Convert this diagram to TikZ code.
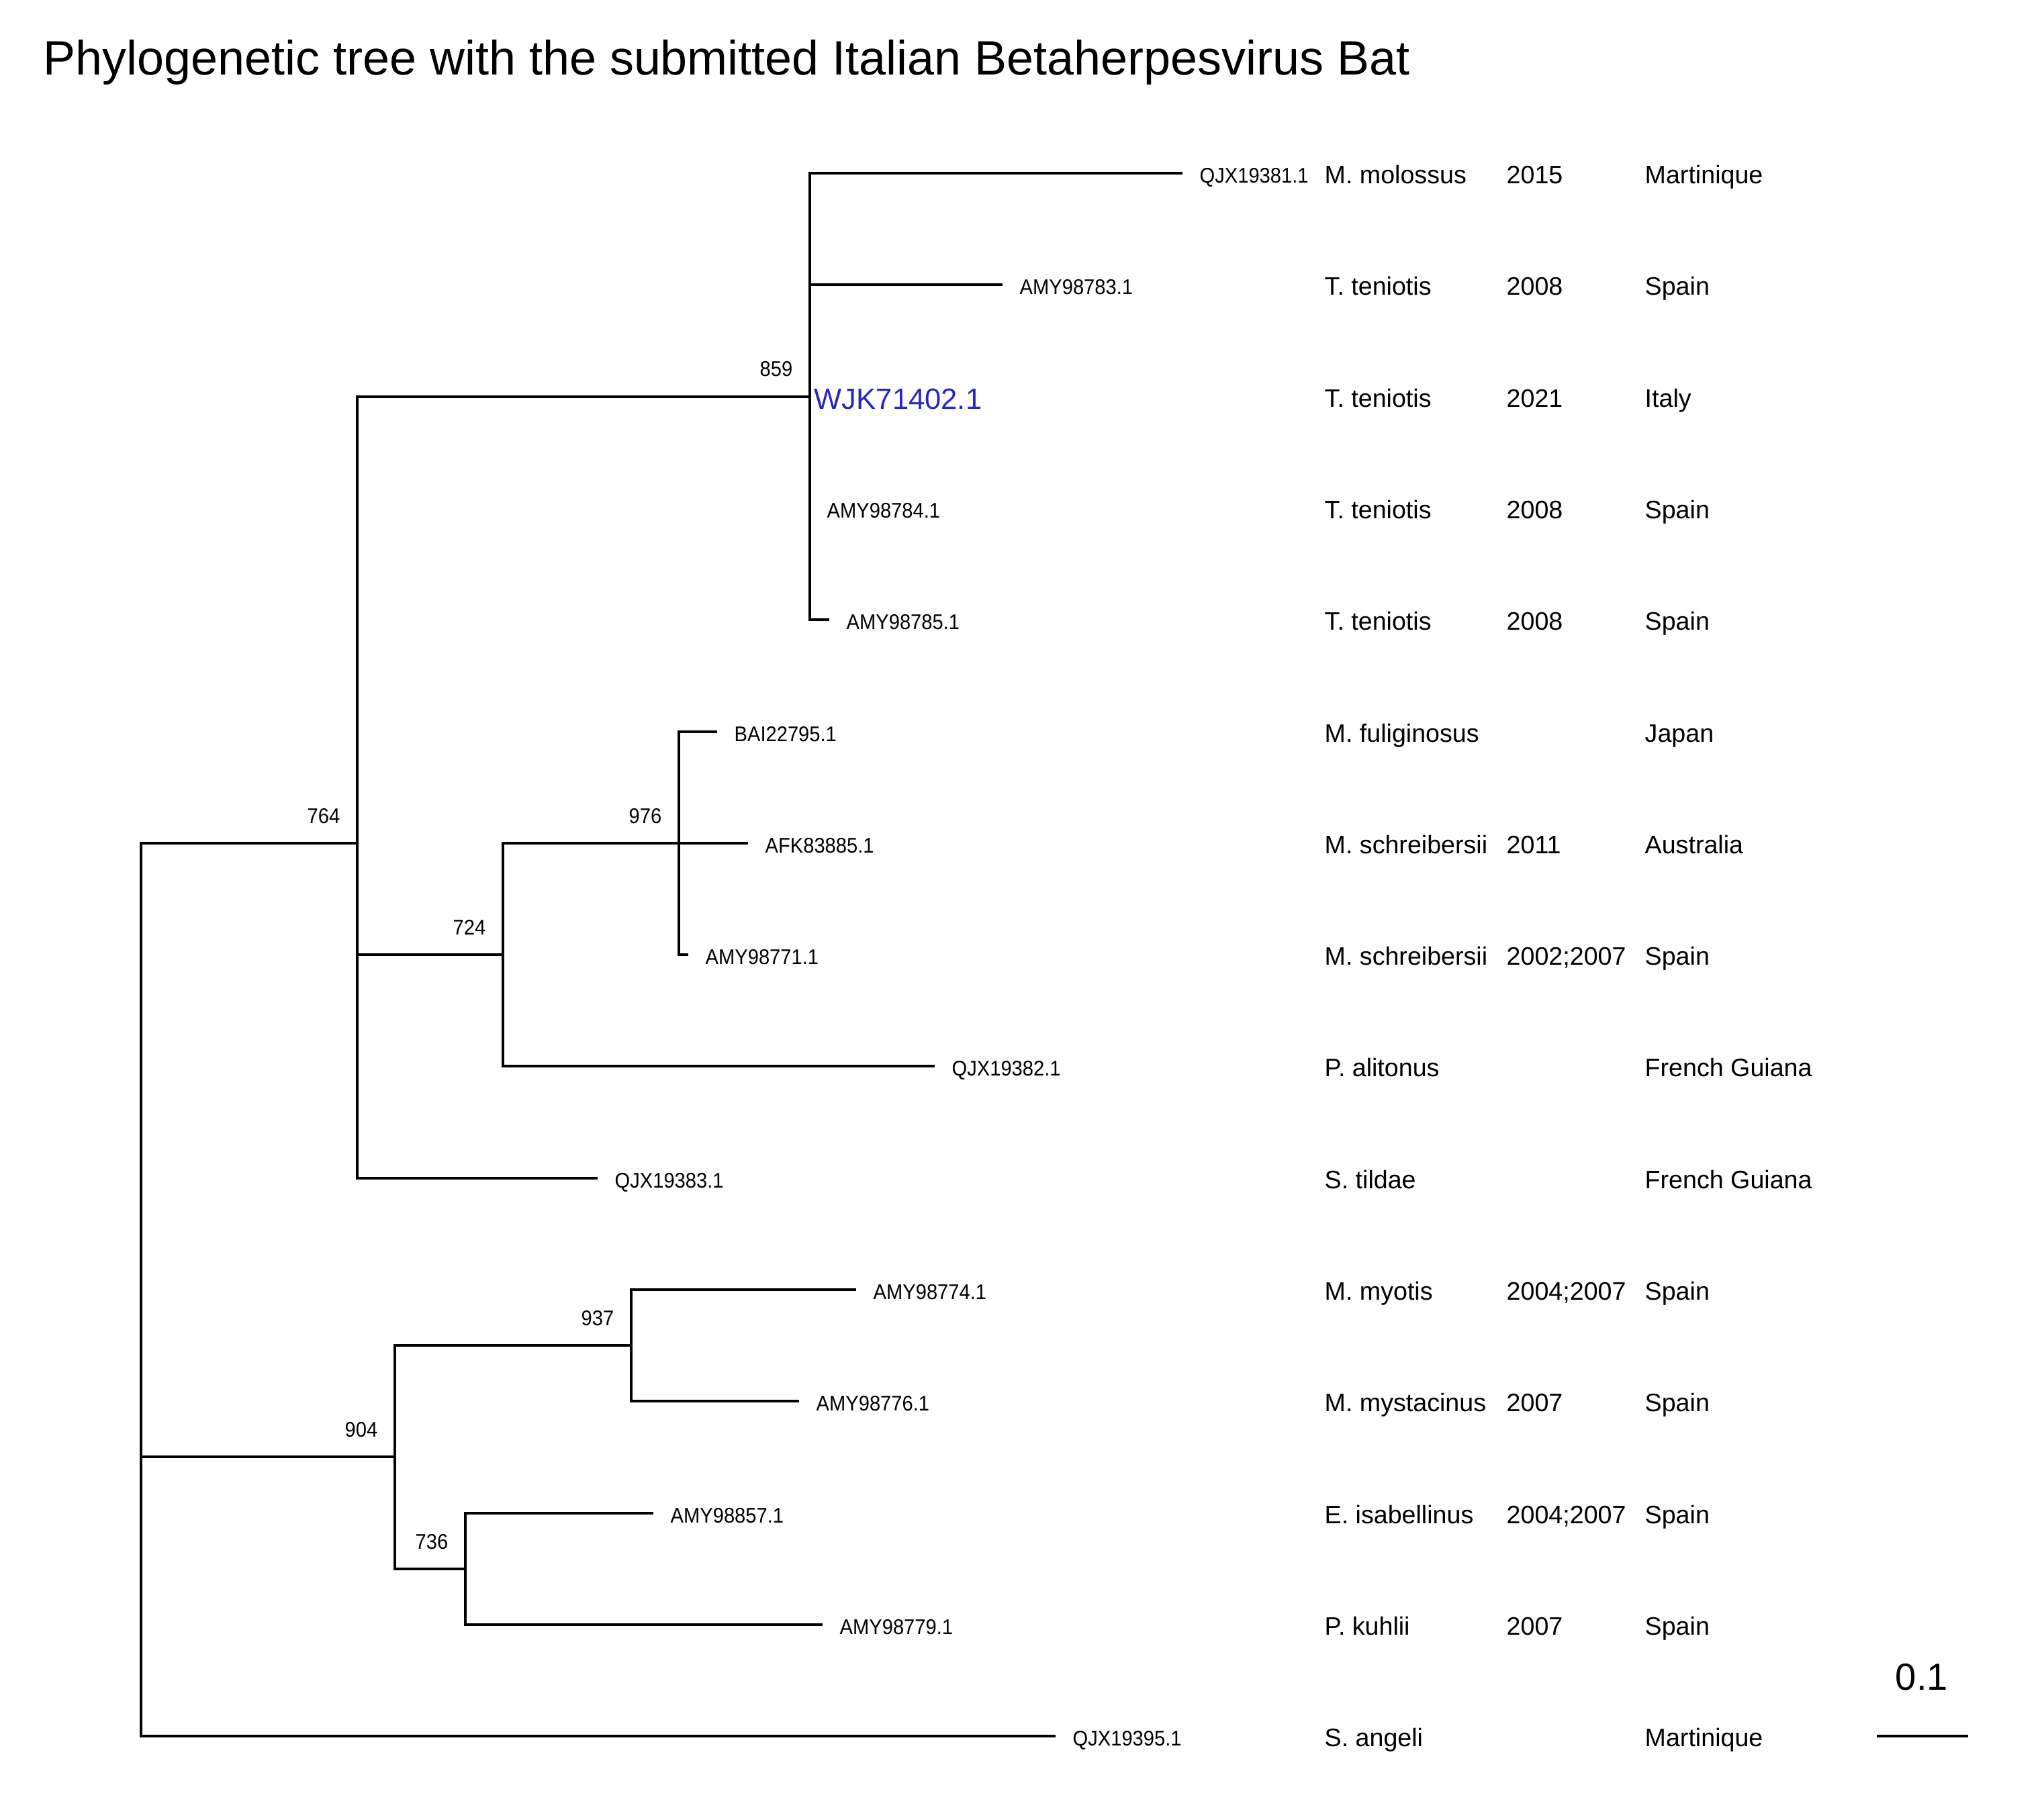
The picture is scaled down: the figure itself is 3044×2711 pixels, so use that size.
\documentclass[tikz,border=0pt]{standalone}
\usepackage{fontspec}
\setmainfont{Liberation Sans}
\newfontfamily\narrowsans[FakeStretch=0.92]{Liberation Sans}
\definecolor{querybl}{RGB}{40,40,190}

\begin{document}
\begin{tikzpicture}[x=0.01cm, y=-0.01cm, every node/.style={inner sep=0pt, font=\fontsize{10.7}{12}\selectfont},
	branch/.style={line width=1pt},
	acclab/.style={anchor=base west, xshift=0.25cm, yshift=-0.14cm, font=\narrowsans\fontsize{9}{10}\selectfont},
	querylab/.style={anchor=base west, xshift=0.06cm, yshift=-0.18cm, text=querybl, font=\fontsize{12.4}{14}\selectfont},
	bootlab/.style={anchor=base east, xshift=-0.25cm, yshift=0.30cm, font=\narrowsans\fontsize{9}{10}\selectfont},
	infolab/.style={anchor=base west}]
	\useasboundingbox (0,0) rectangle (3044,2711);
	\node[anchor=base west, font=\fontsize{20.45}{24}\selectfont] (title) at (64,111) {Phylogenetic tree with the submitted Italian Betaherpesvirus Bat};
	\coordinate (root) at (210,2004);
	\coordinate (n764) at (532,1256);
	\coordinate (n859) at (1206,591);
	\coordinate (n724) at (749,1422);
	\coordinate (n976) at (1011,1256);
	\coordinate (n904) at (588,2170);
	\coordinate (n937) at (940,2004);
	\coordinate (n736) at (693,2337);
	\coordinate (tQJX19381) at (1761,258);
	\coordinate (tAMY98783) at (1493,424);
	\coordinate (tWJK71402) at (1206,591);
	\coordinate (tAMY98784) at (1206,757);
	\coordinate (tAMY98785) at (1235,923);
	\coordinate (tBAI22795) at (1068,1090);
	\coordinate (tAFK83885) at (1114,1256);
	\coordinate (tAMY98771) at (1025,1422);
	\coordinate (tQJX19382) at (1392,1588);
	\coordinate (tQJX19383) at (890,1755);
	\coordinate (tAMY98774) at (1275,1921);
	\coordinate (tAMY98776) at (1190,2087);
	\coordinate (tAMY98857) at (973,2254);
	\coordinate (tAMY98779) at (1225,2420);
	\coordinate (tQJX19395) at (1572,2586);
	\draw[branch] (root) |- (n764);
	\draw[branch] (root) |- (n904);
	\draw[branch] (root) |- (tQJX19395);
	\draw[branch] (n764) |- (n859);
	\draw[branch] (n764) |- (n724);
	\draw[branch] (n764) |- (tQJX19383);
	\draw[branch] (n859) |- (tQJX19381);
	\draw[branch] (n859) |- (tAMY98783);
	\draw[branch] (n859) |- (tAMY98784);
	\draw[branch] (n859) |- (tAMY98785);
	\draw[branch] (n724) |- (n976);
	\draw[branch] (n724) |- (tQJX19382);
	\draw[branch] (n976) |- (tBAI22795);
	\draw[branch] (n976) |- (tAFK83885);
	\draw[branch] (n976) |- (tAMY98771);
	\draw[branch] (n904) |- (n937);
	\draw[branch] (n904) |- (n736);
	\draw[branch] (n937) |- (tAMY98774);
	\draw[branch] (n937) |- (tAMY98776);
	\draw[branch] (n736) |- (tAMY98857);
	\draw[branch] (n736) |- (tAMY98779);
	\node[bootlab] (b764) at (n764) {764};
	\node[bootlab] (b859) at (n859) {859};
	\node[bootlab] (b724) at (n724) {724};
	\node[bootlab] (b976) at (n976) {976};
	\node[bootlab] (b904) at (n904) {904};
	\node[bootlab] (b937) at (n937) {937};
	\node[bootlab] (b736) at (n736) {736};
	\node[acclab] (lQJX19381) at (tQJX19381) {QJX19381.1};
	\node[acclab] (lAMY98783) at (tAMY98783) {AMY98783.1};
	\node[querylab] (lWJK71402) at (tWJK71402) {WJK71402.1};
	\node[acclab] (lAMY98784) at (tAMY98784) {AMY98784.1};
	\node[acclab] (lAMY98785) at (tAMY98785) {AMY98785.1};
	\node[acclab] (lBAI22795) at (tBAI22795) {BAI22795.1};
	\node[acclab] (lAFK83885) at (tAFK83885) {AFK83885.1};
	\node[acclab] (lAMY98771) at (tAMY98771) {AMY98771.1};
	\node[acclab] (lQJX19382) at (tQJX19382) {QJX19382.1};
	\node[acclab] (lQJX19383) at (tQJX19383) {QJX19383.1};
	\node[acclab] (lAMY98774) at (tAMY98774) {AMY98774.1};
	\node[acclab] (lAMY98776) at (tAMY98776) {AMY98776.1};
	\node[acclab] (lAMY98857) at (tAMY98857) {AMY98857.1};
	\node[acclab] (lAMY98779) at (tAMY98779) {AMY98779.1};
	\node[acclab] (lQJX19395) at (tQJX19395) {QJX19395.1};
	\node[infolab] (sp0) at (1972,273) {M. molossus};
	\node[infolab] (yr0) at (2243,273) {2015};
	\node[infolab] (ct0) at (2449,273) {Martinique};
	\node[infolab] (sp1) at (1972,439) {T. teniotis};
	\node[infolab] (yr1) at (2243,439) {2008};
	\node[infolab] (ct1) at (2449,439) {Spain};
	\node[infolab] (sp2) at (1972,606) {T. teniotis};
	\node[infolab] (yr2) at (2243,606) {2021};
	\node[infolab] (ct2) at (2449,606) {Italy};
	\node[infolab] (sp3) at (1972,772) {T. teniotis};
	\node[infolab] (yr3) at (2243,772) {2008};
	\node[infolab] (ct3) at (2449,772) {Spain};
	\node[infolab] (sp4) at (1972,938) {T. teniotis};
	\node[infolab] (yr4) at (2243,938) {2008};
	\node[infolab] (ct4) at (2449,938) {Spain};
	\node[infolab] (sp5) at (1972,1105) {M. fuliginosus};
	\node[infolab] (ct5) at (2449,1105) {Japan};
	\node[infolab] (sp6) at (1972,1271) {M. schreibersii};
	\node[infolab] (yr6) at (2243,1271) {2011};
	\node[infolab] (ct6) at (2449,1271) {Australia};
	\node[infolab] (sp7) at (1972,1437) {M. schreibersii};
	\node[infolab] (yr7) at (2243,1437) {2002;2007};
	\node[infolab] (ct7) at (2449,1437) {Spain};
	\node[infolab] (sp8) at (1972,1603) {P. alitonus};
	\node[infolab] (ct8) at (2449,1603) {French Guiana};
	\node[infolab] (sp9) at (1972,1770) {S. tildae};
	\node[infolab] (ct9) at (2449,1770) {French Guiana};
	\node[infolab] (sp10) at (1972,1936) {M. myotis};
	\node[infolab] (yr10) at (2243,1936) {2004;2007};
	\node[infolab] (ct10) at (2449,1936) {Spain};
	\node[infolab] (sp11) at (1972,2102) {M. mystacinus};
	\node[infolab] (yr11) at (2243,2102) {2007};
	\node[infolab] (ct11) at (2449,2102) {Spain};
	\node[infolab] (sp12) at (1972,2269) {E. isabellinus};
	\node[infolab] (yr12) at (2243,2269) {2004;2007};
	\node[infolab] (ct12) at (2449,2269) {Spain};
	\node[infolab] (sp13) at (1972,2435) {P. kuhlii};
	\node[infolab] (yr13) at (2243,2435) {2007};
	\node[infolab] (ct13) at (2449,2435) {Spain};
	\node[infolab] (sp14) at (1972,2601) {S. angeli};
	\node[infolab] (ct14) at (2449,2601) {Martinique};
	\coordinate (sbL) at (2795,2586);
	\coordinate (sbR) at (2931,2586);
	\draw[branch] (sbL) -- (sbR);
	\node[anchor=base, font=\fontsize{16}{18}\selectfont] (sclab) at (2862,2517) {0.1};
\end{tikzpicture}
\end{document}
